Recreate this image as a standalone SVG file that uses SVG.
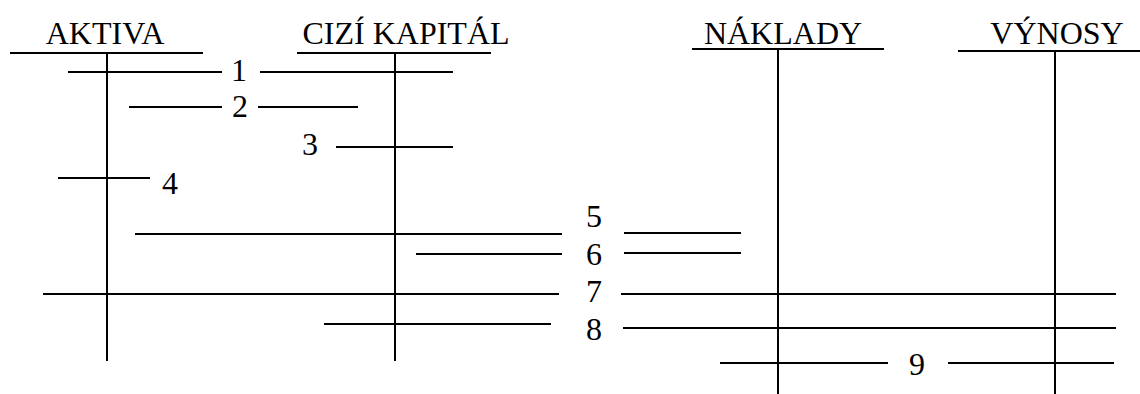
<svg xmlns="http://www.w3.org/2000/svg" width="1140" height="394" viewBox="0 0 1140 394">
<style>
.t{font-family:"Liberation Serif","Times New Roman",serif;font-size:32px;fill:#000;text-anchor:middle}
.l{stroke:#000;stroke-width:2;fill:none}
</style>
<rect width="1140" height="394" fill="#fff"/>
<g id="aktiva">
<text class="t" x="105" y="44">AKTIVA</text>
<path class="l" d="M10,53H203M107,53V361"/>
</g>
<g id="cizi-kapital">
<text class="t" x="406" y="44">CIZÍ KAPITÁL</text>
<path class="l" d="M297,53H491M395,53V361"/>
</g>
<g id="naklady">
<text class="t" x="783" y="44">NÁKLADY</text>
<path class="l" d="M692,49H884M778,49V394"/>
</g>
<g id="vynosy">
<text class="t" x="1057" y="44">VÝNOSY</text>
<path class="l" d="M958,51H1140M1055,51V394"/>
</g>
<g id="connectors">
<path class="l" d="M68,72H222M260,72H453"/>
<path class="l" d="M129,107H222M258,107H358"/>
<path class="l" d="M336,147H453"/>
<path class="l" d="M58,178H150"/>
<path class="l" d="M135,234H562M624,233H741"/>
<path class="l" d="M416,254H562M624,253H741"/>
<path class="l" d="M43,294H559M621,294H1116"/>
<path class="l" d="M324,324H551M623,328H1116"/>
<path class="l" d="M720,363H888M948,363H1114"/>
</g>
<g id="labels">
<text class="t" x="239" y="81">1</text>
<text class="t" x="240" y="117">2</text>
<text class="t" x="310" y="155">3</text>
<text class="t" x="170" y="194">4</text>
<text class="t" x="594" y="227">5</text>
<text class="t" x="594" y="265">6</text>
<text class="t" x="594" y="302">7</text>
<text class="t" x="594" y="340">8</text>
<text class="t" x="917" y="375">9</text>
</g>
</svg>
